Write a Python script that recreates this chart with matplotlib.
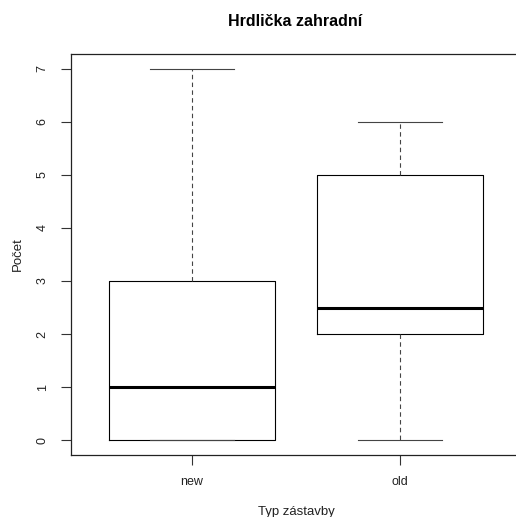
import matplotlib
matplotlib.use("Agg")
import matplotlib.pyplot as plt

plt.rcParams["font.family"] = ["Liberation Sans", "DejaVu Sans"]

# box statistics
groups = ["new", "old"]
mins = [0, 0]
q1s = [0, 2]
medians = [1, 2.5]
q3s = [3, 5]
maxs = [7, 6]

stats = []
for g, lo, a, m, b, hi in zip(groups, mins, q1s, medians, q3s, maxs):
    stats.append({"label": g, "whislo": lo, "q1": a, "med": m, "q3": b, "whishi": hi, "fliers": []})

fig = plt.figure(figsize=(5.16, 5.17), dpi=100)
# right edge of the plot box lies just outside the image, as in the original
ax = fig.add_axes([71 / 516, 62 / 517, 450 / 516, 401 / 517])

ax.bxp(
    stats,
    positions=[1, 2],
    widths=0.8,
    showfliers=False,
    boxprops=dict(color="black", linewidth=0.8),
    medianprops=dict(color="black", linewidth=2.2, solid_capstyle="butt"),
    whiskerprops=dict(color="#444444", linewidth=0.8, linestyle=(0, (4, 3))),
    capprops=dict(color="#444444", linewidth=0.8),
    capwidths=0.4,
)

ax.set_xlim(0.418, 2.582)
ax.set_ylim(-0.28, 7.28)
ax.set_yticks(range(0, 8))
ax.set_xticks([1, 2])
ax.set_xticklabels(groups)
for lbl in ax.get_yticklabels():
    lbl.set_rotation(90)
    lbl.set_va("center")

ax.tick_params(axis="both", direction="out", length=7, width=0.8, color="#333333",
               labelsize=9, labelcolor="#222222")
ax.tick_params(axis="y", pad=9)
ax.tick_params(axis="x", pad=8)
for s in ax.spines.values():
    s.set_linewidth(0.9)
    s.set_color("#222222")

ax.set_xlabel("Typ zástavby", fontsize=9.5, labelpad=13, color="#222222")
ax.set_ylabel("Počet", fontsize=9.5, labelpad=9, color="#222222")
fig.text(295 / 516, 1 - 22 / 517, "Hrdlička zahradní", ha="center", va="center",
         fontsize=11.5, fontweight="bold")

fig.savefig("out.png", dpi=100)
